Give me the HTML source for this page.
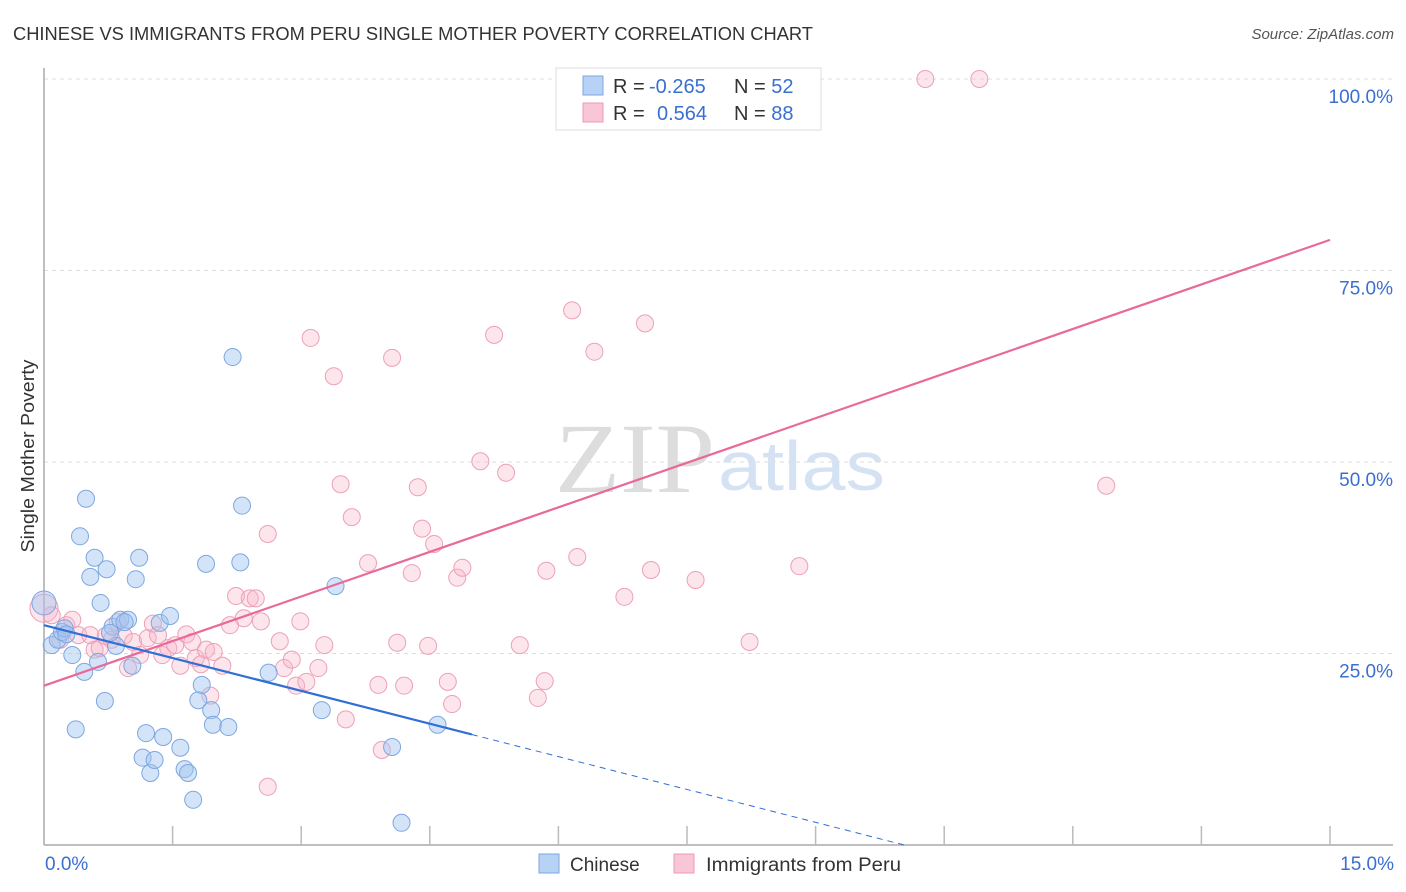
<!DOCTYPE html>
<html><head><meta charset="utf-8"><style>
body{margin:0;background:#fff;font-family:"Liberation Sans",sans-serif;}
svg{display:block}
</style></head><body>
<svg id="chart" width="1406" height="892">
<text x="13" y="40" font-size="18" fill="#333" textLength="800" lengthAdjust="spacingAndGlyphs">CHINESE VS IMMIGRANTS FROM PERU SINGLE MOTHER POVERTY CORRELATION CHART</text>
<text x="1394" y="39" font-size="15" fill="#555" font-style="italic" text-anchor="end">Source: ZipAtlas.com</text>
<text x="555" y="492" font-size="100" font-family="Liberation Serif,serif" fill="#ddd" textLength="160" lengthAdjust="spacingAndGlyphs">ZIP</text>
<text x="718" y="490" font-size="70" fill="#d4e2f4" textLength="167" lengthAdjust="spacingAndGlyphs">atlas</text>
<g id="grid"></g>
<g id="axes"></g>
<text x="34" y="456" font-size="18" fill="#333" text-anchor="middle" textLength="193" lengthAdjust="spacingAndGlyphs" transform="rotate(-90 34 456)">Single Mother Poverty</text>
<g id="pts"></g>
<g id="lines"></g>
<g>
<rect x="556" y="68" width="265" height="62" fill="#fff" stroke="#ddd"/>
<rect x="583" y="76" width="20" height="19" fill="#b8d2f6" stroke="#7da7e0"/>
<rect x="583" y="103" width="20" height="19" fill="#f9c6d6" stroke="#eb9ab5"/>
<text x="613" y="93" font-size="20" fill="#333">R = <tspan x="649" fill="#3a6fd0">-0.265</tspan></text>
<text x="734" y="93" font-size="20" fill="#333">N = <tspan fill="#3a6fd0">52</tspan></text>
<text x="613" y="120" font-size="20" fill="#333">R =  <tspan x="657" fill="#3a6fd0">0.564</tspan></text>
<text x="734" y="120" font-size="20" fill="#333">N = <tspan fill="#3a6fd0">88</tspan></text>
</g>
<g>
<rect x="539" y="854" width="20" height="19" fill="#b8d2f6" stroke="#7da7e0"/>
<text x="570" y="871" font-size="19" fill="#333">Chinese</text>
<rect x="674" y="854" width="20" height="19" fill="#f9c6d6" stroke="#eb9ab5"/>
<text x="706" y="871" font-size="19" fill="#333" textLength="195" lengthAdjust="spacingAndGlyphs">Immigrants from Peru</text>
</g>
</svg>
<script>
const yTicks=[25,50,75,100];
const yTickLabels=["25.0%","50.0%","75.0%","100.0%"];
const xTickLabels=["0.0%","15.0%"];
const chineseX=[0,0.09,0.16,0.21,0.24,0.33,0.37,0.42,0.47,0.49,0.54,0.59,0.63,0.66,0.71,0.73,0.80,0.84,0.89,0.98,1.03,1.07,1.11,1.15,1.19,1.24,1.29,1.35,1.39,1.47,1.59,1.64,1.68,1.74,1.80,1.84,1.89,1.95,1.97,2.15,2.20,2.29,2.31,2.62,3.24,3.40,4.06,4.17,4.59,0.77,0.94,0.26];
const chineseY=[31.6,26.1,26.8,27.8,28.3,24.8,15.1,40.3,22.6,45.2,35.0,37.5,23.9,31.6,18.8,36.0,28.5,26.0,29.4,29.4,23.4,34.7,37.5,11.4,14.6,9.4,11.1,29.0,14.1,29.9,12.7,9.9,9.4,5.9,18.9,20.9,36.7,17.6,15.7,15.4,63.7,36.9,44.3,22.5,17.6,33.8,12.8,2.9,15.7,27.7,29.1,27.5];
const peruX=[0,0.09,0.19,0.26,0.33,0.40,0.54,0.59,0.65,0.72,0.79,0.86,0.93,0.98,1.04,1.12,1.21,1.27,1.33,1.38,1.45,1.53,1.59,1.66,1.73,1.77,1.83,1.89,1.94,1.98,2.08,2.17,2.24,2.33,2.40,2.47,2.53,2.61,2.61,2.75,2.80,2.89,2.94,2.99,3.06,3.11,3.20,3.27,3.38,3.46,3.52,3.59,3.78,3.90,3.94,4.06,4.12,4.20,4.29,4.36,4.41,4.48,4.55,4.71,4.76,4.82,4.88,5.09,5.25,5.39,5.55,5.76,5.84,5.86,6.16,6.22,6.42,6.77,6.92,7.01,7.08,7.60,8.23,8.81,10.28,10.91,12.39];
const peruY=[30.9,30.0,26.8,28.7,29.4,27.4,27.4,25.5,25.7,27.3,26.8,29.1,27.3,23.1,26.5,24.8,27.0,28.9,27.4,24.8,25.7,26.1,23.4,27.5,26.5,24.4,23.6,25.5,19.5,25.2,23.4,28.7,32.5,29.6,32.2,32.2,29.2,40.6,7.6,26.6,23.1,24.2,20.8,29.2,21.3,66.2,23.1,26.1,61.2,47.1,16.4,42.8,36.8,20.9,12.4,63.6,26.4,20.8,35.5,46.7,41.3,26.0,39.3,21.3,18.4,34.9,36.2,50.1,66.6,48.6,26.1,19.2,21.4,35.8,69.8,37.6,64.4,32.4,100,68.1,35.9,34.6,26.5,36.4,100,100,46.9];
const chineseTrend=[28.7,-2.86];
const peruTrend=[20.8,3.88];
const NS='http://www.w3.org/2000/svg';
const X=v=>44+v/15*1286, Y=v=>845-v/100*766;
function mk(tag,attrs,parent){const e=document.createElementNS(NS,tag);for(const k in attrs)e.setAttribute(k,attrs[k]);document.getElementById(parent).appendChild(e);return e;}
yTicks.forEach((t,i)=>{
 const g=mk('line',{x1:44,x2:1393,y1:Y(t),y2:Y(t),stroke:'#ddd','stroke-dasharray':'4,4'},'grid');
 
 
 const l=mk('text',{x:1393,y:Y(t)+24,'font-size':19,fill:'#3a6fd0','text-anchor':'end'},'grid');
 l.textContent=yTickLabels[i];
 
 
});
const ax=mk('line',{x1:44,x2:1393,y1:845,y2:845,stroke:'#aaa','stroke-width':1.5},'axes');


const ay=mk('line',{x1:44,x2:44,y1:68,y2:845,stroke:'#aaa','stroke-width':1.5},'axes');


for(let i=1;i<=10;i++){const t=mk('line',{x1:X(i*1.5),x2:X(i*1.5),y1:826,y2:845,stroke:'#bbb','stroke-width':1.5},'axes');
 
 }
[[0,'start',45],[15,'end',1394]].forEach((d,i)=>{const t=mk('text',{x:d[2],y:870,'font-size':19,fill:'#3a6fd0','text-anchor':d[1]},'axes');t.textContent=xTickLabels[i];
 
 });
peruX.forEach((x,i)=>{const c=mk('circle',{cx:X(x),cy:Y(peruY[i]),r:i==0?14:8.5,fill:'rgba(248,180,200,0.35)',stroke:'#eca0ba','stroke-width':1},'pts');
 
 });
chineseX.forEach((x,i)=>{const c=mk('circle',{cx:X(x),cy:Y(chineseY[i]),r:i==0?12:8.5,fill:'rgba(160,196,240,0.45)',stroke:'#7da7e0','stroke-width':1},'pts');
 
 });
const pl=mk('line',{x1:X(0),y1:Y(peruTrend[0]),x2:X(15),y2:Y(peruTrend[0]+15*peruTrend[1]),stroke:'#e8699a','stroke-width':2.2},'lines');


const xs=4.99, xe=-chineseTrend[0]/chineseTrend[1];
const bl=mk('line',{x1:X(0),y1:Y(chineseTrend[0]),x2:X(xs),y2:Y(chineseTrend[0]+xs*chineseTrend[1]),stroke:'#2f6fd6','stroke-width':2.2},'lines');


const bd=mk('line',{x1:X(xs),y1:Y(chineseTrend[0]+xs*chineseTrend[1]),x2:X(xe),y2:Y(0),stroke:'#2f6fd6','stroke-width':1,'stroke-dasharray':'6,5'},'lines');


</script>
</body></html>
